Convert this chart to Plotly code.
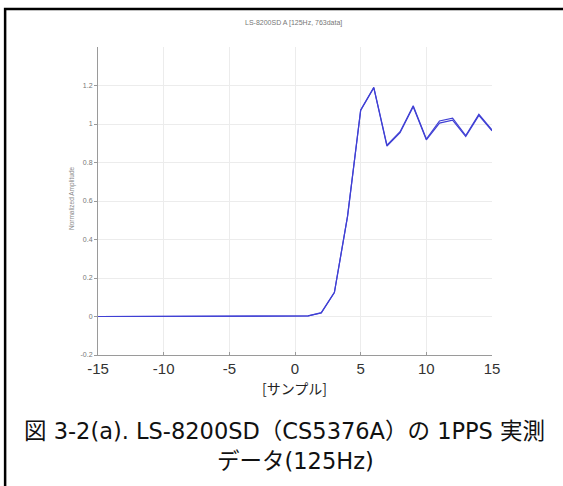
import plotly.graph_objects as go

# ---- data ----
samples = list(range(-15, 16))
amp_a = [0.0]*16 + [0.003, 0.02, 0.126, 0.52, 1.073, 1.19, 0.89, 0.96, 1.095, 0.922, 1.016, 1.03, 0.94, 1.05, 0.969]
amp_b = [0.0]*16 + [0.003, 0.018, 0.124, 0.52, 1.07, 1.188, 0.885, 0.955, 1.09, 0.918, 1.005, 1.02, 0.935, 1.045, 0.965]
x_ticks = [-15, -10, -5, 0, 5, 10, 15]
y_ticks = [-0.2, 0, 0.2, 0.4, 0.6, 0.8, 1, 1.2]
y_tick_text = ["-0.2", "0", "0.2", "0.4", "0.6", "0.8", "1", "1.2"]
title_text = "LS-8200SD A [125Hz, 763data]"
x_title = "[サンプル]"
y_title = "Normalized Amplitude"
caption1 = "図 3-2(a). LS-8200SD（CS5376A）の 1PPS 実測"
caption2 = "データ(125Hz)"

W, H = 563, 486
L, R, T, B = 98, 70.5, 47, 131
pw, ph = W - L - R, H - T - B

def px(x):
    return (x - L) / pw

def py(y):
    return (H - B - y) / ph

fig = go.Figure()
line_color = "#4040d4"
fig.add_trace(go.Scatter(x=samples, y=amp_b, mode="lines",
                         line=dict(color=line_color, width=1.2), showlegend=False))
fig.add_trace(go.Scatter(x=samples, y=amp_a, mode="lines",
                         line=dict(color=line_color, width=1.2), showlegend=False))

axis_gray = "#9a9a9a"
fig.update_layout(
    width=W, height=H,
    margin=dict(l=L, r=R, t=T, b=B),
    paper_bgcolor="white", plot_bgcolor="white",
    font=dict(family="Liberation Sans, Arial, sans-serif"),
    xaxis=dict(range=[-15, 15], tickvals=x_ticks, ticktext=[str(v) for v in x_ticks],
               showgrid=True, gridcolor="#ececec", gridwidth=1,
               zeroline=False, showline=True, linecolor=axis_gray, linewidth=1,
               ticks="inside", ticklen=3, tickcolor=axis_gray,
               tickfont=dict(size=15, color="#333333", family="Liberation Sans, Arial"),
               ticklabelstandoff=0),
    yaxis=dict(range=[-0.2, 1.4], tickvals=y_ticks, ticktext=y_tick_text,
               showgrid=True, gridcolor="#ececec", gridwidth=1,
               zeroline=False, showline=True, linecolor=axis_gray, linewidth=1,
               ticks="outside", ticklen=3, tickcolor=axis_gray,
               tickfont=dict(size=7, color="#777777")),
)

cap_font = dict(size=22.5, color="#111111", family="DejaVu Sans, Noto Sans CJK JP")
annotations = [
    dict(text=title_text, x=px(294), y=py(23), xref="paper", yref="paper",
         showarrow=False, font=dict(size=7, color="#777777"), xanchor="center", yanchor="middle"),
    dict(text=x_title, x=px(295), y=py(388), xref="paper", yref="paper",
         showarrow=False, font=dict(size=14, color="#222222", family="Noto Sans CJK JP"),
         xanchor="center", yanchor="middle"),
    dict(text=y_title, x=px(72), y=py(198), xref="paper", yref="paper", textangle=-90,
         showarrow=False, font=dict(size=6.5, color="#888888"), xanchor="center", yanchor="middle"),
    dict(text=caption1, x=px(285), y=py(431), xref="paper", yref="paper",
         showarrow=False, font=cap_font, xanchor="center", yanchor="middle"),
    dict(text=caption2, x=px(296), y=py(461), xref="paper", yref="paper",
         showarrow=False, font=cap_font, xanchor="center", yanchor="middle"),
]
fig.update_layout(annotations=annotations)

# outer frame (left and top edges visible)
path = f"M {px(5)} {py(490)} L {px(5)} {py(9)} L {px(565)} {py(9)}"
fig.add_shape(type="path", path=path, xref="paper", yref="paper",
              line=dict(color="black", width=2.5))

fig.write_html("out.html")
